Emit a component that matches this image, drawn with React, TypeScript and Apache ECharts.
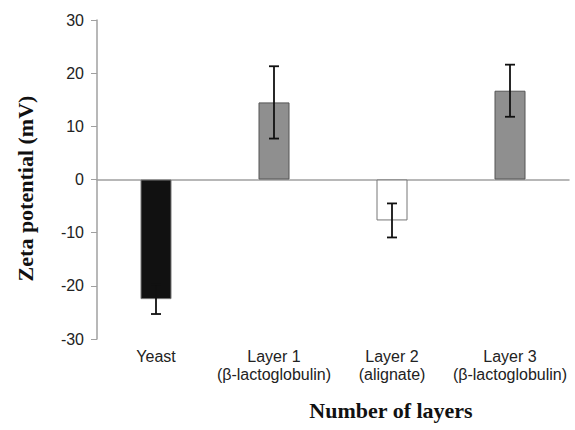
import React, { useEffect, useRef } from "react";
import * as echarts from "echarts";

const categories = ["Yeast", "Layer 1\n(β-lactoglobulin)", "Layer 2\n(alignate)", "Layer 3\n(β-lactoglobulin)"];
const values = [-22.5, 14.5, -7.7, 16.7];
const errors = [2.8, 6.8, 3.2, 4.9];
const barColors = ["#111111", "#8f8f8f", "#ffffff", "#8f8f8f"];
const borderColors = ["#777777", "#555555", "#777777", "#555555"];
const yTicks = { min: -30, max: 30, interval: 10 };

export default function App() {
  const ref = useRef<HTMLDivElement>(null);
  useEffect(() => {
    if (!ref.current) return;
    const chart = echarts.init(ref.current, null, { renderer: "svg" });
    const errData = values.map((v, i) => [i, v - errors[i], v + errors[i]]);
    chart.setOption({
      animation: false,
      backgroundColor: "#ffffff",
      grid: { left: 97, right: 6, top: 20, bottom: 91 },
      xAxis: [
        {
          type: "category",
          data: categories,
          position: "bottom",
          axisLine: { onZero: true, lineStyle: { color: "#a0a0a0", width: 1.5 } },
          axisTick: { show: false },
          axisLabel: { show: false },
        },
        {
          type: "category",
          data: categories,
          position: "bottom",
          axisLine: { show: false, onZero: false },
          axisTick: { show: false },
          axisLabel: {
            show: true,
            interval: 0,
            margin: 8,
            color: "#222",
            fontFamily: "Liberation Sans, Arial, sans-serif",
            fontSize: 16,
            lineHeight: 18,
          },
        },
      ],
      yAxis: {
        type: "value",
        min: yTicks.min,
        max: yTicks.max,
        interval: yTicks.interval,
        splitLine: { show: false },
        axisLine: { show: true, lineStyle: { color: "#a0a0a0", width: 1.5 } },
        axisTick: { show: true, inside: false, length: 6, lineStyle: { color: "#a0a0a0" } },
        axisLabel: {
          color: "#222",
          fontFamily: "Liberation Sans, Arial, sans-serif",
          fontSize: 16,
          margin: 13,
        },
        name: "Zeta potential (mV)",
        nameLocation: "middle",
        nameGap: 61,
        nameRotate: 90,
        nameTextStyle: {
          fontFamily: "Liberation Serif, Times New Roman, serif",
          fontWeight: "bold",
          fontSize: 22,
          color: "#111",
          padding: [0, 18, 0, 0],
        },
      },
      graphic: [
        {
          type: "text",
          x: 391,
          y: 410,
          style: {
            text: "Number of layers",
            textAlign: "center",
            textVerticalAlign: "middle",
            fontFamily: "Liberation Serif, Times New Roman, serif",
            fontWeight: "bold",
            fontSize: 22,
            fill: "#111",
          },
        },
      ],
      series: [
        {
          type: "bar",
          barWidth: 31,
          data: values.map((v, i) => ({
            value: v,
            itemStyle: { color: barColors[i], borderColor: borderColors[i], borderWidth: 1 },
          })),
        },
        {
          type: "custom",
          data: errData,
          z: 10,
          renderItem: (params: any, api: any) => {
            const i = api.value(0);
            const lo = api.coord([i, api.value(1)]);
            const hi = api.coord([i, api.value(2)]);
            const w = 5;
            const style = { stroke: "#111", lineWidth: 1.8 };
            return {
              type: "group",
              children: [
                { type: "line", shape: { x1: lo[0], y1: lo[1], x2: hi[0], y2: hi[1] }, style },
                { type: "line", shape: { x1: lo[0] - w, y1: lo[1], x2: lo[0] + w, y2: lo[1] }, style },
                { type: "line", shape: { x1: hi[0] - w, y1: hi[1], x2: hi[0] + w, y2: hi[1] }, style },
              ],
            };
          },
        },
      ],
    });
    return () => chart.dispose();
  }, []);
  return <div ref={ref} style={{ position: "absolute", left: 0, top: 0, width: 575, height: 430 }} />;
}
